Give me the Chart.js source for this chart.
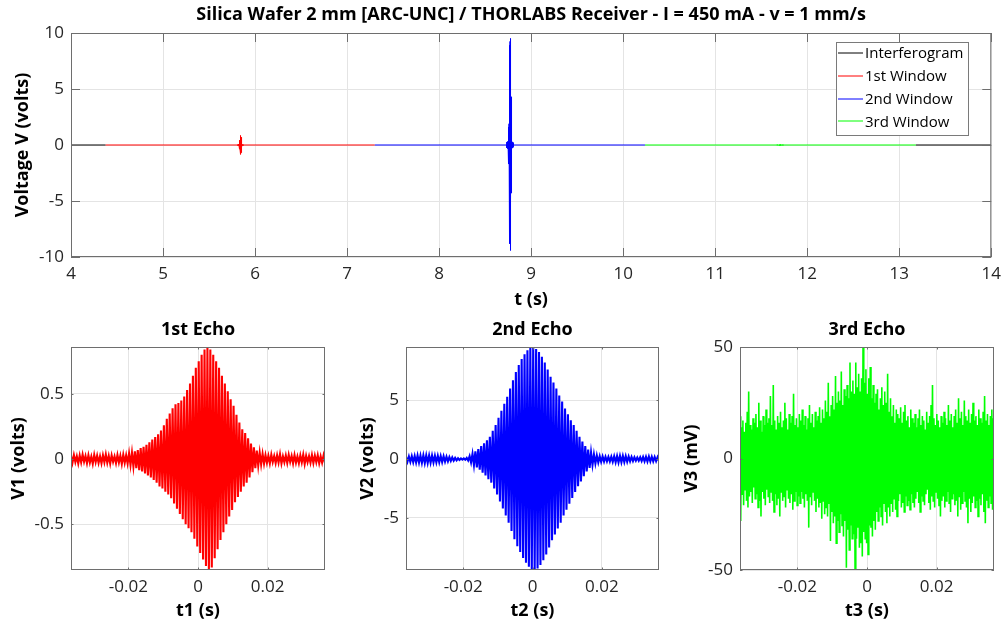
<!DOCTYPE html>
<html>
<head>
<meta charset="utf-8">
<script src="https://cdn.jsdelivr.net/npm/chart.js@4.4.0/dist/chart.umd.min.js"></script>
<style>
body { margin: 0; background: #fff; }
#wrap { position: relative; width: 1008px; height: 631px; }
canvas { position: absolute; left: 0; top: 0; }
</style>
</head>
<body>
<div id="wrap">
<canvas id="cTop" width="1008" height="631"></canvas>
<canvas id="cE1" width="1008" height="631"></canvas>
<canvas id="cE2" width="1008" height="631"></canvas>
<canvas id="cE3" width="1008" height="631"></canvas>
</div>
<script>
// window limits in the full record (s) and echo centres
var windowEdges = [4.376, 7.30, 10.237, 13.18];
var echoCenters = [5.842, 8.772, 11.708];
var tRange = [4, 14];
var echoSpan = [-0.0365, 0.0365];

var ticksTopX = [4, 5, 6, 7, 8, 9, 10, 11, 12, 13, 14];
var ticksTopY = [-10, -5, 0, 5, 10];
var ticksEchoX = [-0.02, 0, 0.02];
var ticksE1Y = [-0.5, 0, 0.5];
var ticksE2Y = [-5, 0, 5];
var ticksE3Y = [-50, 0, 50];

// fringe peaks (one max and one min per fringe)
var hi1 = [0.025, 0.031, 0.022, 0.028, 0.035, 0.024, 0.03, 0.02, 0.033, 0.027, 0.022, 0.03, 0.036, 0.025, 0.029, 0.021, 0.032, 0.027, 0.034, 0.03,
  0.045, 0.05, 0.06, 0.07, 0.085, 0.095, 0.11, 0.13, 0.15, 0.17,
  0.19, 0.22, 0.26, 0.31, 0.35, 0.39, 0.42, 0.43, 0.45, 0.48,
  0.53, 0.58, 0.64, 0.70, 0.75, 0.80, 0.84, 0.855, 0.84, 0.80,
  0.75, 0.70, 0.64, 0.58, 0.52, 0.46, 0.41, 0.34, 0.28, 0.23,
  0.20, 0.16, 0.12, 0.09, 0.065, 0.05,
  0.04, 0.03, 0.026, 0.035, 0.024, 0.03, 0.038, 0.022, 0.028, 0.033, 0.025, 0.031, 0.02, 0.029, 0.034, 0.026, 0.023, 0.032, 0.027, 0.03, 0.021, 0.028];
var lo1 = [-0.028, -0.022, -0.033, -0.025, -0.02, -0.031, -0.026, -0.035, -0.023, -0.029, -0.032, -0.024, -0.027, -0.034, -0.021, -0.03, -0.025, -0.036, -0.028, -0.032,
  -0.045, -0.055, -0.07, -0.085, -0.095, -0.11, -0.125, -0.14, -0.16, -0.18,
  -0.21, -0.225, -0.25, -0.27, -0.30, -0.34, -0.38, -0.42, -0.46, -0.50,
  -0.53, -0.56, -0.61, -0.67, -0.72, -0.77, -0.82, -0.845, -0.83, -0.76,
  -0.69, -0.62, -0.56, -0.50, -0.44, -0.39, -0.33, -0.29, -0.25, -0.21,
  -0.18, -0.14, -0.10, -0.07, -0.05, -0.04,
  -0.035, -0.028, -0.032, -0.022, -0.03, -0.026, -0.034, -0.024, -0.029, -0.021, -0.033, -0.027, -0.031, -0.025, -0.036, -0.023, -0.028, -0.03, -0.024, -0.032, -0.026, -0.029];

var hi2 = [0.2, 0.22, 0.25, 0.27, 0.3, 0.3, 0.32, 0.32, 0.31, 0.3, 0.29, 0.28, 0.26, 0.24, 0.2, 0.17, 0.14, 0.1, 0.07, 0.05,
  0.05, 0.1, 0.25, 0.45, 0.65, 0.85, 1.1, 1.35, 1.6, 1.9,
  2.4, 2.9, 3.5, 4.1, 4.7, 5.3, 6.0, 6.7, 7.4, 8.0,
  8.5, 8.9, 9.25, 9.45, 9.52, 9.35, 9.1, 8.7, 8.2, 7.6,
  7.0, 6.5, 6.0, 5.4, 4.9, 4.3, 3.8, 3.3, 2.9, 2.4,
  1.9, 1.5, 1.1, 0.8, 0.55, 0.4, 0.3,
  0.25, 0.22, 0.2, 0.18, 0.2, 0.24, 0.27, 0.28, 0.27, 0.25, 0.22, 0.18, 0.15, 0.13, 0.15, 0.18, 0.2, 0.22, 0.2, 0.18, 0.16];
var lo2 = [-0.22, -0.24, -0.26, -0.29, -0.3, -0.32, -0.33, -0.32, -0.3, -0.29, -0.28, -0.27, -0.25, -0.22, -0.19, -0.16, -0.13, -0.1, -0.07, -0.05,
  -0.06, -0.12, -0.28, -0.5, -0.7, -0.9, -1.15, -1.4, -1.7, -2.0,
  -2.5, -3.0, -3.6, -4.2, -4.8, -5.4, -6.1, -6.8, -7.4, -7.9,
  -8.4, -8.8, -9.15, -9.35, -9.42, -9.3, -9.0, -8.6, -8.1, -7.5,
  -6.9, -6.4, -5.9, -5.4, -4.8, -4.3, -3.8, -3.3, -2.8, -2.3,
  -1.9, -1.45, -1.05, -0.75, -0.5, -0.38, -0.28,
  -0.24, -0.21, -0.19, -0.2, -0.23, -0.26, -0.28, -0.27, -0.25, -0.22, -0.19, -0.16, -0.14, -0.13, -0.16, -0.19, -0.21, -0.2, -0.19, -0.17, -0.15];

// 3rd echo in mV (noise with a weak burst near 0)
var hi3 = [19, 14, 17, 12, 16, 21, 30, 15, 13, 18, 16, 20, 14, 25, 17, 12, 19, 15, 22, 16,
  18, 28, 15, 33, 17, 13, 19, 16, 21, 14, 17, 25, 18, 13, 20, 16, 19, 29, 15, 18,
  14, 20, 17, 22, 15, 19, 13, 18, 24, 16, 20, 14, 21, 17, 19, 23, 16, 22, 18, 26,
  21, 34, 19, 24, 28, 22, 37, 25, 30, 26, 39, 24, 31, 28, 33, 27, 43, 30, 35, 29,
  43, 32, 38, 30, 36, 51, 34, 40, 29, 36, 41, 27, 33, 25, 29, 31, 22, 27, 32, 24,
  30, 25, 38, 21, 27, 19, 24, 16, 22, 20, 18, 23, 16, 21, 24, 17, 19, 14, 22, 18,
  16, 20, 14, 18, 22, 15, 19, 17, 13, 21, 16, 19, 24, 33, 18, 15, 20, 17, 14, 19,
  16, 21, 18, 15, 24, 17, 20, 14, 19, 22, 16, 27, 18, 21, 15, 26, 19, 17, 22, 16,
  20, 25, 17, 19, 15, 22, 18, 16, 21, 28, 17, 20, 15, 19, 22, 18];
var lo3 = [-28, -16, -21, -14, -19, -22, -17, -15, -20, -13, -18, -16, -22, -19, -26, -15, -18, -21, -14, -17,
  -20, -15, -19, -24, -16, -21, -18, -26, -15, -19, -17, -22, -14, -18, -20, -16, -23, -19, -15, -21,
  -17, -20, -15, -18, -22, -16, -19, -31, -17, -21, -15, -19, -24, -18, -22, -20, -27, -19, -25, -22,
  -26, -20, -37, -24, -29, -26, -38, -28, -33, -25, -30, -35, -28, -49, -32, -41, -30, -36, -34, -50,
  -36, -31, -40, -38, -44, -33, -36, -38, -43, -30, -31, -35, -28, -32, -24, -28, -22, -26, -30, -20,
  -24, -29, -22, -26, -20, -24, -18, -23, -26, -19, -16, -22, -20, -24, -17, -21, -19, -23, -16, -20,
  -22, -18, -15, -20, -24, -17, -19, -21, -16, -14, -20, -23, -17, -19, -22, -15, -18, -21, -26, -19,
  -17, -22, -19, -15, -20, -24, -18, -16, -21, -19, -26, -17, -23, -20, -15, -19, -22, -29, -18, -24,
  -20, -17, -22, -19, -26, -18, -21, -16, -24, -29, -19, -22, -17, -20, -23, -18];

var RED = '#ff0000', BLUE = '#0000ff', GREEN = '#00ff00', BLACK = '#000000';
var FONT = 'Open Sans';

function echoPoints(hi, lo, shift, k) {
  var pts = [];
  var n = hi.length * 2;
  var step = (echoSpan[1] - echoSpan[0]) / (n - 1);
  for (var i = 0; i < hi.length; i++) {
    pts.push({ x: shift + echoSpan[0] + (2 * i) * step, y: hi[i] * k });
    pts.push({ x: shift + echoSpan[0] + (2 * i + 1) * step, y: lo[i] * k });
  }
  return pts;
}

// flat baseline of a window with its echo in the middle
function windowPoints(a, b, hi, lo, c, k) {
  return [{ x: a, y: 0 }, { x: c + echoSpan[0], y: 0 }]
    .concat(echoPoints(hi, lo, c, k), [{ x: c + echoSpan[1], y: 0 }, { x: b, y: 0 }]);
}

// axes box, inner tick marks, title and legend
var frame = {
  id: 'frame',
  afterDraw: function (chart, args, o) {
    var c = chart.ctx, a = chart.chartArea;
    c.save();
    c.strokeStyle = '#6e6e6e';
    c.lineWidth = 1;
    c.strokeRect(a.left + 0.5, a.top + 0.5, a.right - a.left - 1, a.bottom - a.top - 1);
    c.beginPath();
    chart.scales.x.ticks.forEach(function (t) {
      var p = Math.round(chart.scales.x.getPixelForValue(t.value)) + 0.5;
      c.moveTo(p, a.bottom); c.lineTo(p, a.bottom - o.tick);
      c.moveTo(p, a.top); c.lineTo(p, a.top + o.tick);
    });
    chart.scales.y.ticks.forEach(function (t) {
      var p = Math.round(chart.scales.y.getPixelForValue(t.value)) + 0.5;
      c.moveTo(a.left, p); c.lineTo(a.left + o.tick, p);
      c.moveTo(a.right, p); c.lineTo(a.right - o.tick, p);
    });
    c.stroke();

    c.fillStyle = '#000';
    c.font = 'bold ' + o.titleSize + 'px "' + FONT + '"';
    c.textAlign = 'center';
    c.textBaseline = 'middle';
    c.fillText(o.title, (a.left + a.right) / 2, o.titleY);

    if (o.legend) {
      var L = o.legend;
      c.fillStyle = '#fff';
      c.fillRect(L.x, L.y, L.w, L.h);
      c.strokeStyle = '#7a7a7a';
      c.strokeRect(L.x + 0.5, L.y + 0.5, L.w, L.h);
      c.font = '15px "' + FONT + '"';
      c.textAlign = 'left';
      chart.data.datasets.forEach(function (d, i) {
        var y = L.y + 11 + i * 22.8;
        c.strokeStyle = d.borderColor;
        c.beginPath();
        c.moveTo(L.x + 2, Math.round(y));
        c.lineTo(L.x + 27, Math.round(y));
        c.stroke();
        c.fillStyle = '#000';
        c.fillText(d.label, L.x + 29, y + 1);
      });
    }
    c.restore();
  }
};

function xAxis(min, max, ticks, title, H) {
  return {
    type: 'linear', min: min, max: max,
    afterBuildTicks: function (s) { s.ticks = ticks.map(function (v) { return { value: v }; }); },
    afterFit: function (s) { s.height = H; },
    grid: { color: '#e4e4e4', drawTicks: false },
    border: { display: false },
    ticks: { padding: 7, color: '#262626', font: { family: FONT, size: 17 }, maxRotation: 0, autoSkip: false,
      callback: function (v) { return String(v); } },
    title: { display: true, text: title, color: '#000', padding: 0, font: { family: FONT, size: 18, weight: 'bold' } }
  };
}

function yAxis(min, max, ticks, title, W) {
  return {
    type: 'linear', min: min, max: max,
    afterBuildTicks: function (s) { s.ticks = ticks.map(function (v) { return { value: v }; }); },
    afterFit: function (s) { s.width = W; },
    grid: { color: '#e4e4e4', drawTicks: false },
    border: { display: false },
    ticks: { padding: 7, color: '#262626', font: { family: FONT, size: 17 }, autoSkip: false,
      callback: function (v) { return String(v); } },
    title: { display: true, text: title, color: '#000', padding: 0, font: { family: FONT, size: 18, weight: 'bold' } }
  };
}

// area = [left, top, right, bottom] of the plot box
function makeChart(id, datasets, area, xs, ys, frameOpts, lw) {
  var W = ys.off + 10.8, H = xs.lab + 10.8 - area[3];
  return new Chart(document.getElementById(id), {
    type: 'line',
    data: { datasets: datasets },
    options: {
      responsive: false,
      animation: false,
      layout: { padding: { left: area[0] - W, top: area[1], right: 1008 - area[2], bottom: 631 - area[3] - H } },
      elements: { point: { radius: 0 }, line: { borderWidth: lw, tension: 0 } },
      scales: {
        x: xAxis(xs.min, xs.max, xs.ticks, xs.title, H),
        y: yAxis(ys.min, ys.max, ys.ticks, ys.title, W)
      },
      plugins: { legend: { display: false }, tooltip: { enabled: false }, frame: frameOpts }
    },
    plugins: [frame]
  });
}

var topSets = [
  { label: 'Interferogram', borderColor: BLACK, order: 1,
    data: [{ x: tRange[0], y: 0 }, { x: windowEdges[0], y: 0 }, { x: windowEdges[0], y: null },
           { x: windowEdges[3], y: null }, { x: windowEdges[3], y: 0 }, { x: tRange[1], y: 0 }] },
  { label: '1st Window', borderColor: RED, data: windowPoints(windowEdges[0], windowEdges[1], hi1, lo1, echoCenters[0], 1) },
  { label: '2nd Window', borderColor: BLUE, data: windowPoints(windowEdges[1], windowEdges[2], hi2, lo2, echoCenters[1], 1) },
  { label: '3rd Window', borderColor: GREEN, data: windowPoints(windowEdges[2], windowEdges[3], hi3, lo3, echoCenters[2], 0.001) }
];

makeChart('cTop', topSets, [71, 33, 994, 257],
  { min: tRange[0], max: tRange[1], ticks: ticksTopX, title: 't (s)', lab: 300 },
  { min: -10, max: 10, ticks: ticksTopY, title: 'Voltage V (volts)', off: 48 },
  { tick: 9, title: 'Silica Wafer 2 mm [ARC-UNC] / THORLABS Receiver - I = 450 mA - v = 1 mm/s', titleSize: 18, titleY: 15,
    legend: { x: 836, y: 42, w: 132, h: 93 } }, 1);

makeChart('cE1', [{ label: 'V1', borderColor: RED, data: echoPoints(hi1, lo1, 0, 1) }], [71, 347, 325, 570],
  { min: echoSpan[0], max: echoSpan[1], ticks: ticksEchoX, title: 't1 (s)', lab: 611 },
  { min: -0.85, max: 0.86, ticks: ticksE1Y, title: 'V1 (volts)', off: 52 },
  { tick: 2.5, title: '1st Echo', titleSize: 18, titleY: 330 }, 2.1);

makeChart('cE2', [{ label: 'V2', borderColor: BLUE, data: echoPoints(hi2, lo2, 0, 1) }], [406, 347, 659, 570],
  { min: echoSpan[0], max: echoSpan[1], ticks: ticksEchoX, title: 't2 (s)', lab: 611 },
  { min: -9.42, max: 9.52, ticks: ticksE2Y, title: 'V2 (volts)', off: 38 },
  { tick: 2.5, title: '2nd Echo', titleSize: 18, titleY: 330 }, 2.1);

makeChart('cE3', [{ label: 'V3', borderColor: GREEN, data: echoPoints(hi3, lo3, 0, 1) }], [740, 347, 994, 570],
  { min: echoSpan[0], max: echoSpan[1], ticks: ticksEchoX, title: 't3 (s)', lab: 611 },
  { min: -50, max: 50, ticks: ticksE3Y, title: 'V3 (mV)', off: 48 },
  { tick: 2.5, title: '3rd Echo', titleSize: 18, titleY: 330 }, 1.6);
</script>
</body>
</html>
